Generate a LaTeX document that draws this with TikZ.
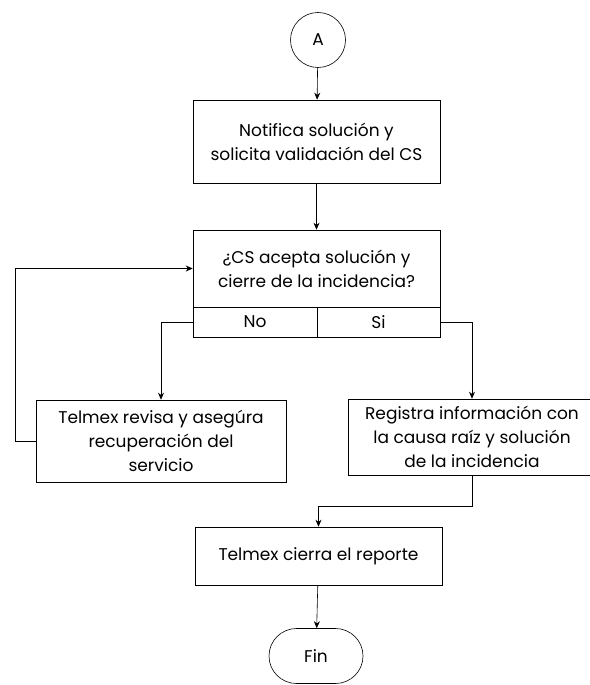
\documentclass[tikz,border=0pt]{standalone}
\usepackage{fontspec}
\setmainfont{Poppins}
\usetikzlibrary{positioning,arrows.meta,shapes.misc}

\tikzset{
  box/.style={rectangle, draw, line width=0.6pt, align=center, inner sep=0pt,
    font=\fontsize{17}{24}\selectfont},
  arr/.style={-{Stealth[length=7pt,width=6pt]}, line width=0.6pt},
}

\begin{document}
\begin{tikzpicture}[x=1pt,y=-1pt]
  \useasboundingbox (0,0) rectangle (589,685);
  % Connector A
  \node[circle, draw, line width=0.6pt, minimum size=55pt, inner sep=0pt,
    font=\fontsize{17}{20}\selectfont] (a) at (318,40) {A};
  \node[box, minimum width=247pt, minimum height=83pt] (notifica) at (316.5,141.5)
    {Notifica solución y\\solicita validación del CS};
  % Decision with its two answers
  \node[box, minimum width=247pt, minimum height=77pt] (acepta) at (316.5,268.5)
    {¿CS acepta solución y\\cierre de la incidencia?};
  \node[box, minimum width=124pt, minimum height=30pt] (no) at (255,322) {No};
  \node[box, minimum width=123pt, minimum height=30pt] (si) at (378.5,322) {Si};
  % Branches
  \node[box, minimum width=250pt, minimum height=82pt] (revisa) at (161,441)
    {Telmex revisa y asegúra\\recuperación del\\servicio};
  \node[box, minimum width=248pt, minimum height=76pt] (registra) at (472,437)
    {Registra información con\\la causa raíz y solución\\de la incidencia};
  \node[box, minimum width=247pt, minimum height=58pt] (cierra) at (318.5,556)
    {Telmex cierra el reporte};
  % End
  \node[rounded rectangle, draw, line width=0.6pt, minimum width=94pt, minimum height=55pt,
    inner sep=0pt, font=\fontsize{17}{20}\selectfont] (fin) at (316,656) {Fin};
  \coordinate (loop) at (15,441);
  \coordinate (junta) at (472,506);
  % Connectors
  \draw[arr] (a) -- (notifica);
  \draw[arr] (notifica) -- (acepta);
  \draw[arr] (no.west) -| (revisa.north);
  \draw[arr] (si.east) -| (registra.north);
  \draw[arr] (revisa.west) -- (loop) |- (acepta.west);
  \draw[arr] (registra.south) -- (junta) -| (cierra.north);
  \draw[arr] (cierra) -- (fin);
\end{tikzpicture}
\end{document}
